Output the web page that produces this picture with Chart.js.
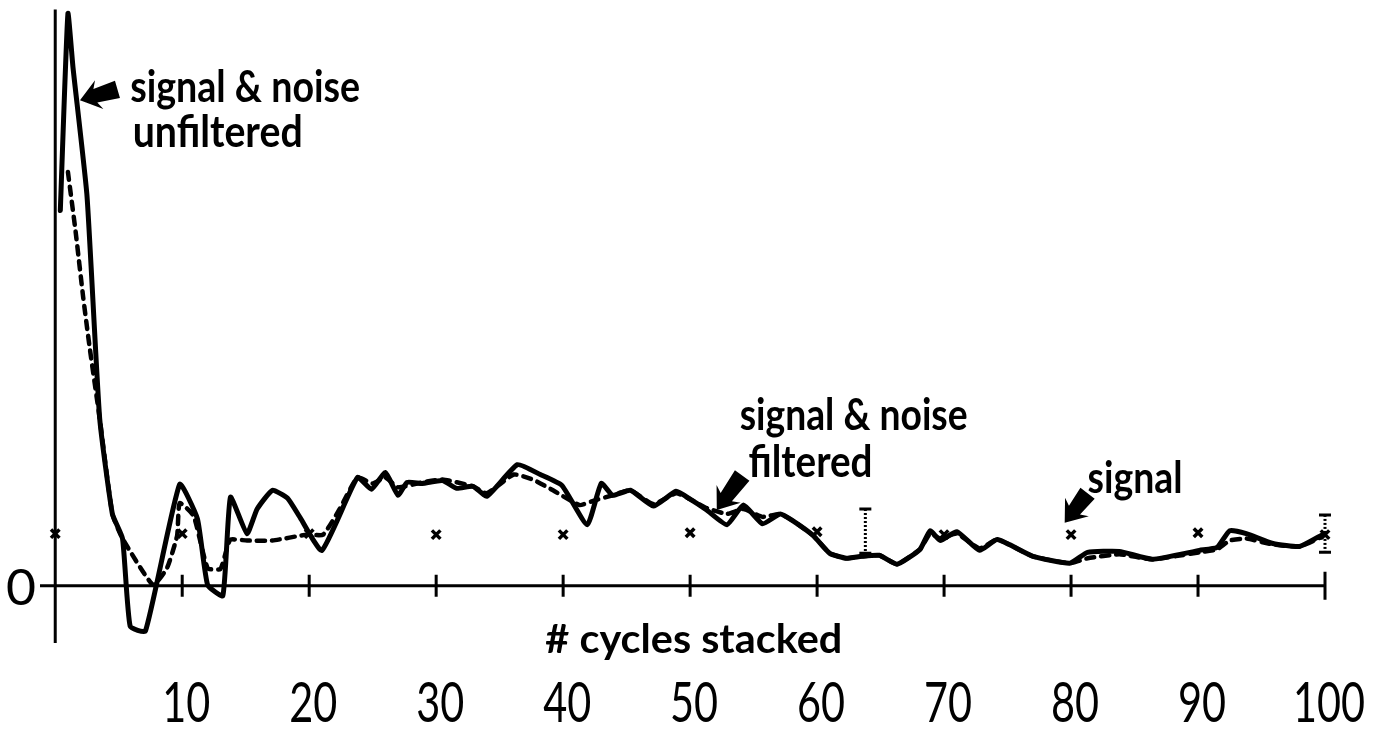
<!DOCTYPE html>
<html>
<head>
<meta charset="utf-8">
<script src="https://cdn.jsdelivr.net/npm/chart.js@4.4.1/dist/chart.umd.min.js"></script>
<style>
html, body { margin: 0; padding: 0; background: #fff; }
#wrap { width: 1378px; height: 736px; }
</style>
</head>
<body>
<div id="wrap"><canvas id="stackChart" width="1378" height="736"></canvas></div>
<script>
// cycles stacked vs. amplitude (arbitrary units)
var cyclesUnfiltered = [0.4, 1.0, 1.4, 2.5, 3.5, 4.5, 5.3, 5.9, 7.1, 9.8, 11.2, 12.0, 13.2, 13.8, 15.1, 15.9, 17.1, 18.3, 19.3, 21.0,
    23.8, 24.9, 26.0, 27.0, 27.7, 28.9, 30.5, 31.6, 32.9, 34.0, 36.4, 38.2, 39.9, 41.9, 43.0, 43.9, 45.3, 47.1, 48.9, 50.0,
    51.3, 52.9, 54.2, 55.7, 57.1, 58.1, 59.7, 61.0, 62.3, 63.5, 64.9, 66.3, 68.1, 68.9, 69.7, 71.0, 72.8, 74.2, 77.0, 79.9,
    81.3, 83.8, 86.4, 90.1, 91.5, 92.5, 93.8, 95.9, 98.0, 99.8];
var valuesUnfiltered = [38.1, 58.1, 52.6, 39.6, 17.0, 7.3, 4.8, -4.1, -4.6, 10.3, 6.8, 0.1, -1.0, 9.0, 5.3, 7.8, 9.7, 8.9, 6.9, 3.6,
    11.0, 9.8, 11.5, 9.2, 10.5, 10.4, 10.7, 9.9, 10.1, 9.1, 12.3, 11.3, 10.2, 6.2, 10.4, 9.2, 9.7, 8.1, 9.6, 8.8,
    7.7, 6.2, 8.2, 6.3, 7.3, 6.6, 5.1, 3.3, 2.8, 3.0, 3.1, 2.2, 3.7, 5.6, 4.6, 5.5, 3.6, 4.7, 3.0, 2.3,
    3.4, 3.5, 2.7, 3.6, 3.9, 5.6, 5.3, 4.3, 4.0, 5.2];

var cyclesFiltered = [1.0, 1.6, 2.2, 2.7, 3.5, 4.5, 5.3, 7.7, 8.8, 9.6, 9.8, 10.9, 12.0, 13.0, 13.5, 13.8, 15.1, 17.1, 19.8, 21.1,
    22.4, 23.8, 25.0, 26.0, 27.0, 28.9, 30.5, 32.9, 34.0, 36.1, 37.6, 39.2, 41.3, 42.3, 43.9, 45.3, 47.1, 48.9, 50.0, 51.3,
    52.9, 54.2, 55.7, 57.1, 58.1, 59.7, 61.0, 62.3, 63.5, 64.9, 66.3, 68.1, 68.9, 69.7, 71.0, 72.8, 74.2, 77.0, 79.9, 81.3,
    83.8, 86.4, 90.1, 91.5, 92.5, 93.8, 95.9, 98.0, 99.8];
var valuesFiltered = [42.0, 36.0, 29.3, 24.3, 17.0, 7.3, 4.8, 0.1, 1.8, 5.1, 8.4, 7.1, 1.8, 1.7, 3.7, 4.7, 4.6, 4.6, 5.2, 5.2,
    7.8, 11.0, 10.4, 11.0, 10.0, 10.5, 10.8, 10.1, 9.4, 11.3, 10.8, 9.7, 8.2, 8.6, 9.2, 9.7, 8.3, 9.4, 8.8, 7.9,
    7.3, 7.8, 7.0, 7.3, 6.6, 5.1, 3.3, 2.8, 3.0, 3.1, 2.2, 3.7, 5.3, 4.8, 5.3, 3.8, 4.7, 3.0, 2.3, 2.8,
    3.2, 2.7, 3.4, 3.7, 4.6, 4.8, 4.2, 4.0, 5.0];

var cyclesSignal = [0, 10, 20, 30, 40, 50, 60, 70, 80, 90, 100];
var valuesSignal = [5.3, 5.3, 5.3, 5.2, 5.2, 5.4, 5.5, 5.2, 5.2, 5.4, 5.2];

var errorCycles = [63.8, 100];
var errorLow = [3.3, 3.4];
var errorHigh = [7.8, 7.2];

var tickValues = [10, 20, 30, 40, 50, 60, 70, 80, 90, 100];
var tickLabels = ['10', '20', '30', '40', '50', '60', '70', '80', '90', '100'];

function toPoints(xs, ys) {
    return xs.map(function (x, i) { return { x: x, y: ys[i] }; });
}

// text drawn squeezed to a target width, the scan uses a narrow geometric face
function drawScaled(ctx, text, x, y, font, width, align) {
    ctx.save();
    ctx.font = font;
    var sx = width ? width / ctx.measureText(text).width : 1;
    ctx.translate(x, y);
    ctx.scale(sx, 1);
    ctx.textAlign = align || 'left';
    ctx.textBaseline = 'alphabetic';
    ctx.fillStyle = '#000';
    ctx.fillText(text, 0, 0);
    ctx.restore();
}

function fatArrow(ctx, tx, ty, bx, by) {
    var dx = bx - tx, dy = by - ty;
    var len = Math.sqrt(dx * dx + dy * dy);
    var ux = dx / len, uy = dy / len, nx = -uy, ny = ux;
    var head = 20, hw = 15, sw = 7;
    ctx.beginPath();
    ctx.moveTo(tx, ty);
    ctx.lineTo(tx + ux * head + nx * hw, ty + uy * head + ny * hw);
    ctx.lineTo(tx + ux * (head - 4) + nx * sw, ty + uy * (head - 4) + ny * sw);
    ctx.lineTo(bx + nx * (sw + 2), by + ny * (sw + 2));
    ctx.lineTo(bx - nx * (sw + 2), by - ny * (sw + 2));
    ctx.lineTo(tx + ux * (head - 4) - nx * sw, ty + uy * (head - 4) - ny * sw);
    ctx.lineTo(tx + ux * head - nx * hw, ty + uy * head - ny * hw);
    ctx.closePath();
    ctx.fill();
}

var notes = [
    { text: 'signal & noise', x: 5.9, y: 49.1, w: 230 },
    { text: 'unfiltered', x: 6.1, y: 44.5, w: 170 },
    { text: 'signal & noise', x: 53.9, y: 15.8, w: 228 },
    { text: 'filtered', x: 54.6, y: 11.0, w: 124 },
    { text: 'signal', x: 81.3, y: 9.4, w: 95 }
];
var arrows = [
    { tip: [1.95, 49.3], tail: [4.9, 50.4] },
    { tip: [52.1, 7.7], tail: [54.1, 11.2] },
    { tip: [79.5, 6.4], tail: [81.3, 9.4] }
];

var paperAxes = {
    id: 'paperAxes',
    beforeDatasetsDraw: function (chart) {
        var ctx = chart.ctx, xs = chart.scales.x, ys = chart.scales.y;
        var y0 = ys.getPixelForValue(0), x0 = xs.getPixelForValue(0);
        ctx.save();
        ctx.strokeStyle = '#000';
        ctx.lineWidth = 3;
        ctx.beginPath();
        ctx.moveTo(xs.left, y0);
        ctx.lineTo(xs.right, y0);
        ctx.moveTo(x0, ys.top);
        ctx.lineTo(x0, ys.bottom);
        tickValues.forEach(function (v) {
            var px = xs.getPixelForValue(v);
            var h = v === 100 ? 14 : 11;
            ctx.moveTo(px, y0 - h);
            ctx.lineTo(px, y0 + h);
        });
        ctx.stroke();

        // error bars
        errorCycles.forEach(function (c, i) {
            var px = xs.getPixelForValue(c);
            var top = ys.getPixelForValue(errorHigh[i]);
            var bot = ys.getPixelForValue(errorLow[i]);
            ctx.lineWidth = 3;
            ctx.setLineDash([2, 2]);
            ctx.beginPath();
            ctx.moveTo(px, top);
            ctx.lineTo(px, bot);
            ctx.stroke();
            ctx.setLineDash([]);
            ctx.beginPath();
            ctx.moveTo(px - 6, top);
            ctx.lineTo(px + 6, top);
            ctx.moveTo(px - 6, bot);
            ctx.lineTo(px + 6, bot);
            ctx.stroke();
        });
        ctx.restore();
    },
    afterDraw: function (chart) {
        var ctx = chart.ctx, xs = chart.scales.x, ys = chart.scales.y;
        var y0 = ys.getPixelForValue(0);
        ctx.save();
        ctx.fillStyle = '#000';

        // tick labels, all squeezed by the same factor
        ctx.font = '56px Lato';
        var sx = 72 / ctx.measureText('100').width;
        tickValues.forEach(function (v, i) {
            ctx.font = '56px Lato';
            var w = ctx.measureText(tickLabels[i]).width * sx;
            drawScaled(ctx, tickLabels[i], xs.getPixelForValue(v) + 4, y0 + 136, '56px Lato', w, 'center');
        });
        drawScaled(ctx, '0', xs.left - 4, y0 + 19, '50px Lato', 30, 'right');
        drawScaled(ctx, '# cycles stacked', xs.getPixelForValue(38.6), y0 + 67, 'bold 40px Lato', 297, 'left');

        notes.forEach(function (n) {
            drawScaled(ctx, n.text, xs.getPixelForValue(n.x), ys.getPixelForValue(n.y), 'bold 44px Lato', n.w, 'left');
        });
        arrows.forEach(function (a) {
            fatArrow(ctx, xs.getPixelForValue(a.tip[0]), ys.getPixelForValue(a.tip[1]),
                xs.getPixelForValue(a.tail[0]), ys.getPixelForValue(a.tail[1]));
        });
        ctx.restore();
    }
};

var ctx = document.getElementById('stackChart').getContext('2d');
var stackChart = new Chart(ctx, {
    type: 'line',
    data: {
        datasets: [{
            label: 'signal & noise unfiltered',
            data: toPoints(cyclesUnfiltered, valuesUnfiltered),
            borderColor: '#000',
            borderWidth: 5,
            pointRadius: 0,
            tension: 0.15,
            borderJoinStyle: 'round',
            borderCapStyle: 'round',
            clip: false
        }, {
            label: 'signal & noise filtered',
            data: toPoints(cyclesFiltered, valuesFiltered),
            borderColor: '#000',
            borderWidth: 4.5,
            borderDash: [8, 7],
            pointRadius: 0,
            tension: 0.15,
            borderCapStyle: 'round',
            clip: false
        }, {
            label: 'signal',
            data: toPoints(cyclesSignal, valuesSignal),
            showLine: false,
            pointStyle: 'crossRot',
            pointRadius: 6,
            borderColor: '#000',
            borderWidth: 3.5,
            clip: false
        }]
    },
    options: {
        responsive: false,
        animation: false,
        layout: { padding: { left: 40, right: 53, top: 0, bottom: 93 } },
        scales: {
            x: { type: 'linear', min: -1.2, max: 100, display: false },
            y: { type: 'linear', min: -5.8, max: 58.5, display: false }
        },
        plugins: {
            legend: { display: false },
            tooltip: { enabled: false }
        }
    },
    plugins: [paperAxes]
});
</script>
</body>
</html>
